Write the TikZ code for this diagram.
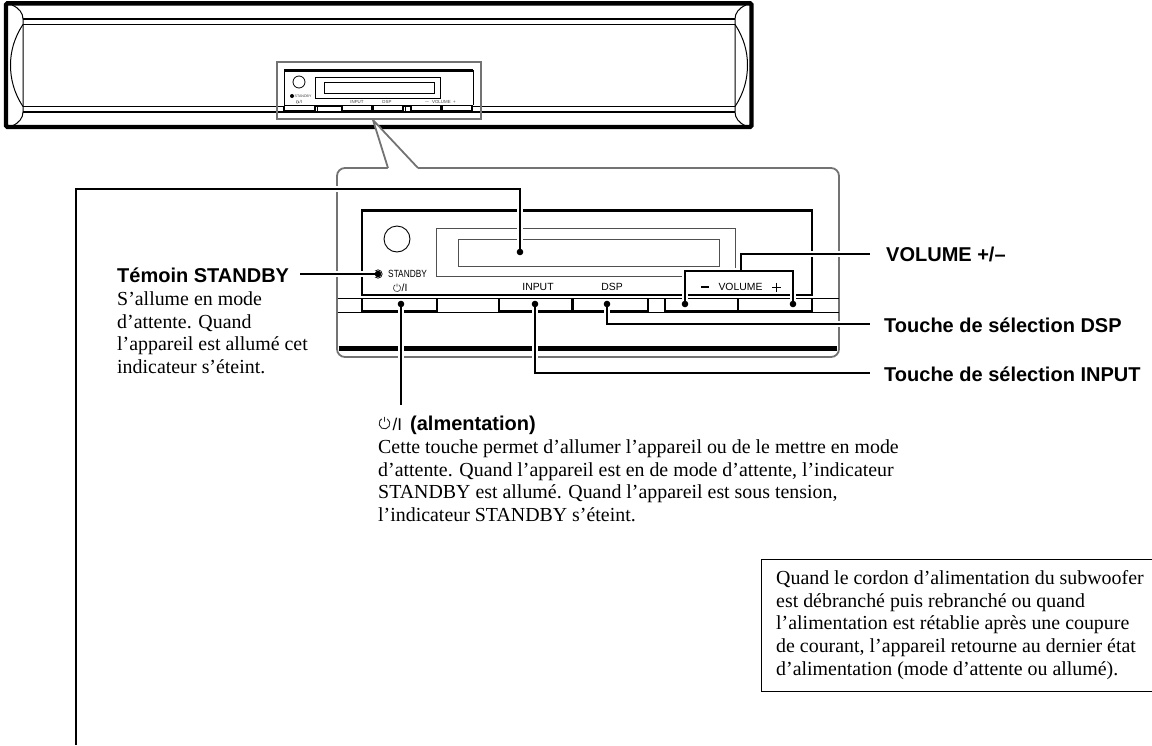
\documentclass[tikz,border=0pt]{standalone}
\usepackage{graphicx}
\usepackage{fontspec}
\setmainfont{Liberation Serif}
\setsansfont{Liberation Sans}
\usepackage{tikz}
\usetikzlibrary{calc}
\definecolor{framegray}{gray}{0.45}
\tikzset{
  leader/.style={line width=2.6pt},
  casing/.style={line width=5.6pt, white},
  callout/.style={draw=framegray, line width=1.8pt},
  thinline/.style={line width=1pt},
  btn/.style={line width=1.5pt},
  heading/.style={anchor=base west, inner sep=0pt, font=\sffamily\bfseries\fontsize{20}{22}\selectfont},
  body/.style={anchor=north west, inner sep=0pt, font=\fontsize{19.9}{22.6}\selectfont, align=left},
  paneltext/.style={inner sep=0pt, font=\sffamily\fontsize{10.4}{11}\selectfont},
  tinytext/.style={inner sep=0pt, font=\sffamily\fontsize{4.4}{5}\selectfont, text=black!75},
  powersym/.pic={\draw (-60:1) arc[start angle=-60, delta angle=300, radius=1] (0,-1.25) -- (0,-.35);}
}
\begin{document}
\begin{tikzpicture}[x=1pt, y=-1pt]
\useasboundingbox (0,0) rectangle (1152,745);
% speaker bar
\coordinate (BarNW) at (6,3.3);
\coordinate (BarSE) at (751.5,127);
\draw[line width=1.3pt] (23,19) -- (735,19);
\draw[line width=1.3pt] (23,24.5) -- (735,24.5);
\draw[line width=1.3pt] (23,106.5) -- (735,106.5);
\draw[line width=1.3pt] (23,112) -- (735,112);
\draw[thinline] (12,5) .. controls (19,8) and (23,13) .. (23,19) -- (23,112) .. controls (23,118) and (19,123) .. (12,126);
\draw[thinline] (23,24.5) .. controls (14,38) and (10.5,52) .. (10.5,65) .. controls (10.5,79) and (14,93) .. (23,106.5);
\draw[thinline] (746,5) .. controls (739,8) and (735,13) .. (735,19) -- (735,112) .. controls (735,118) and (739,123) .. (746,126);
\draw[thinline] (735,24.5) .. controls (744,38) and (747.5,52) .. (747.5,65) .. controls (747.5,79) and (744,93) .. (735,106.5);
\draw[line width=4.4pt, rounded corners=1.5pt] (BarNW) rectangle (BarSE);
% small panel
\fill[white] (284,70) rectangle (473,105);
\draw[line width=1pt] (284,105) -- (284,70) -- (473,70) -- (473,105);
\draw[line width=2.4pt] (284,70.5) -- (473,70.5);
\draw[line width=2pt] (284,105.5) -- (473,105.5);
\draw[line width=.8pt] (299,82) circle (6);
\draw[line width=.7pt] (315,77) rectangle (440,98);
\draw[line width=.7pt] (324,82) rectangle (434,93);
\fill (292,96) circle (2);
\node[tinytext, anchor=west, font=\sffamily\fontsize{3.6}{5}\selectfont] (SmallStandby) at (294.5,96) {STANDBY};
\path (297.5,102) pic[scale=1.5, black!75, line width=.3pt] {powersym};
\node[tinytext, anchor=west] (SmallPower) at (299.5,102) {/I};
\node[tinytext] (SmallInput) at (357,102) {INPUT};
\node[tinytext] (SmallDsp) at (387,102) {DSP};
\node[tinytext] (SmallVolume) at (440,102) {$-$\ \ VOLUME\ \ +};
\foreach \xa/\xb in {284/315, 317/341, 342/372, 373/403, 405/410, 411/441, 442/472}
  \fill[white] (\xa,106) rectangle (\xb,111);
\foreach \xa/\xb in {284/315, 342/372, 373/403, 411/441, 442/472}
  \draw[line width=1.2pt] (\xa,106) -- (\xa,111) -- (\xb,111) -- (\xb,106);
\draw[line width=.8pt] (317,106) rectangle (341,111);
\draw[line width=.8pt] (405,106) rectangle (410,111);
\draw[framegray, line width=2pt] (277,62) rectangle (481,119);
% callout with tail
\draw[callout, fill=white, rounded corners=8pt] (388,168) -- (337,168) -- (337,357) -- (839,357) -- (839,168) -- (418,168);
\fill[white] (388,169) -- (373,120) -- (418,169) -- cycle;
\draw[callout, line join=round] (388,168) -- (373,120) -- (418,168);
% large panel
\draw[line width=1.5pt] (362,295) -- (362,210) -- (812,210) -- (812,295) -- cycle;
\draw[line width=3pt] (362,210) -- (812,210);
\draw[line width=1pt] (337.5,298) -- (838.5,298);
\draw[line width=1pt] (337.5,312) -- (838.5,312);
\foreach \xa/\xb in {362/437, 499/572, 573/648, 665/738, 738/812}
  \draw[btn] (\xa,298) -- (\xa,311) -- (\xb,311) -- (\xb,298);
\draw[line width=.9pt] (397,239) circle (13);
\draw[framegray!70!black, line width=1pt] (436,228) rectangle (735,276);
\draw[framegray!70!black, line width=1pt] (458,239) rectangle (719,266);
\fill[white] (683,271) rectangle (737,280);
\draw[line width=.7pt] (378,274) circle (4.2);
\node[paneltext, anchor=west] (LabelStandby) at (388,274) {\scalebox{.8}[1]{STANDBY}};
\path (397,288) pic[scale=3.6, black!80, line width=.6pt] {powersym};
\node[paneltext, anchor=west] (LabelPower) at (401.5,287.5) {/I};
\node[paneltext] (LabelInput) at (538,287) {INPUT};
\node[paneltext] (LabelDsp) at (612,287) {DSP};
\node[paneltext] (LabelVolume) at (740.5,287) {VOLUME};
\draw[line width=1.1pt] (701,287) -- (709,287);
\draw[line width=1pt] (772,287) -- (781,287) (776.5,282.5) -- (776.5,291.5);
\draw[line width=5pt] (338.5,348.5) -- (837,348.5);
% leader lines
\coordinate (DisplayDot) at (520,252);
\coordinate (StandbyDot) at (378,274);
\coordinate (PowerDot) at (401,304);
\coordinate (InputDot) at (535,304);
\coordinate (DspDot) at (607,304);
\coordinate (MinusDot) at (685,304);
\coordinate (PlusDot) at (793,304);
\coordinate (VolumeJoin) at (741,271);
\coordinate (DisplayBend) at (76,189);
\coordinate (DisplayEnd) at (76,745);
\coordinate (StandbyEnd) at (300,274);
\coordinate (PowerEnd) at (401,405);
\coordinate (InputEnd) at (870,373);
\coordinate (DspEnd) at (870,324);
\coordinate (VolumeEnd) at (870,254);
\foreach \st in {casing, leader} {
  \draw[\st] (DisplayDot) |- (DisplayBend) -- (DisplayEnd);
  \draw[\st] (StandbyDot) -- (StandbyEnd);
  \draw[\st] (PowerDot) -- (PowerEnd);
  \draw[\st] (InputDot) |- (InputEnd);
  \draw[\st] (DspDot) |- (DspEnd);
  \draw[\st] (MinusDot) |- (VolumeJoin);
  \draw[\st] (PlusDot) |- (VolumeJoin);
  \draw[\st] (VolumeJoin) |- (VolumeEnd);
}
\foreach \p in {DisplayDot, StandbyDot, PowerDot, InputDot, DspDot, MinusDot, PlusDot}
  \fill (\p) circle (3.3);
% labels
\node[heading] (StandbyHead) at (117,282) {Témoin STANDBY};
\node[body] (StandbyText) at (117,291.4) {S’allume en mode\\d’attente. Quand\\l’appareil est allumé cet\\indicateur s’éteint.};
\path (384.5,423.5) pic[scale=5.4, black!85, line width=.9pt] {powersym};
\node[heading, font=\sffamily\fontsize{17}{20}\selectfont] (PowerSlash) at (392.5,430) {/I};
\node[heading] (PowerHead) at (410,430) {(almentation)};
\node[body] (PowerText) at (378,439.4) {Cette touche permet d’allumer l’appareil ou de le mettre en mode\\d’attente. Quand l’appareil est en de mode d’attente, l’indicateur\\STANDBY est allumé. Quand l’appareil est sous tension,\\l’indicateur STANDBY s’éteint.};
\node[heading] (VolumeHead) at (886,261) {VOLUME +/–};
\node[heading] (DspHead) at (884,332) {Touche de sélection DSP};
\node[heading] (InputHead) at (884,381) {Touche de sélection INPUT};
% note box
\draw[line width=.9pt] (1152,559) -- (761,559) -- (761,691) -- (1152,691);
\node[body] (NoteText) at (776,570.4) {Quand le cordon d’alimentation du subwoofer\\est débranché puis rebranché ou quand\\l’alimentation est rétablie après une coupure\\de courant, l’appareil retourne au dernier état\\d’alimentation (mode d’attente ou allumé).};
\end{tikzpicture}
\end{document}
